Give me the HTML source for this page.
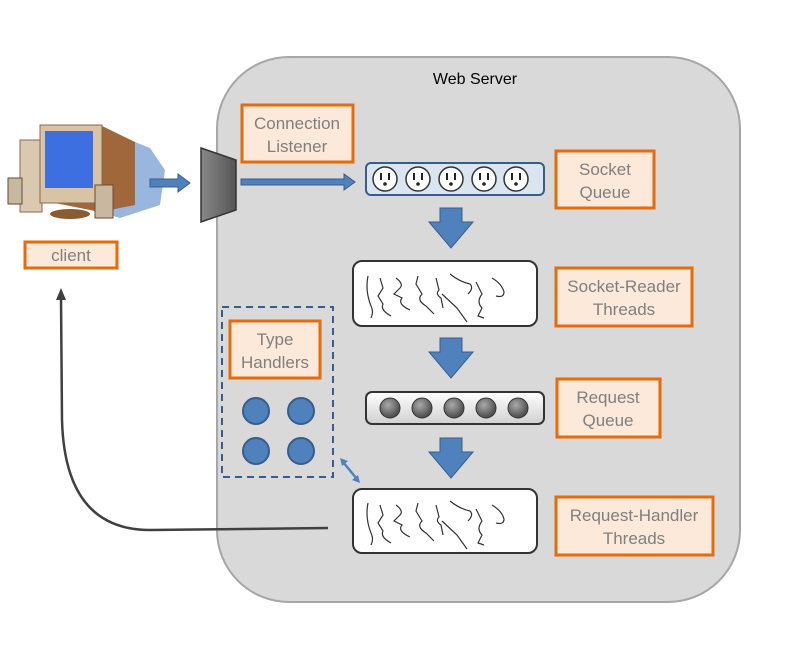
<!DOCTYPE html>
<html><head><meta charset="utf-8"><style>
html,body{margin:0;padding:0;background:#fff;width:800px;height:670px;overflow:hidden}
svg{display:block}
.lbl{fill:#fde9d9;stroke:#e46c0a;stroke-width:3}
text{font-family:"Liberation Sans",sans-serif;}
.t{fill:#7f7f7f;font-size:17px;text-anchor:middle}
</style></head><body>
<svg width="800" height="670" viewBox="0 0 800 670">
<defs>
<linearGradient id="rq" x1="0" y1="0" x2="0" y2="1"><stop offset="0" stop-color="#fff"/><stop offset="1" stop-color="#d0d0d0"/></linearGradient>
<radialGradient id="ball" cx="0.4" cy="0.35" r="0.7"><stop offset="0" stop-color="#aaa"/><stop offset="1" stop-color="#444"/></radialGradient>
<linearGradient id="tr" x1="0" y1="0" x2="1" y2="0"><stop offset="0" stop-color="#888"/><stop offset="1" stop-color="#555"/></linearGradient>
<g id="threads" fill="none" stroke="#333" stroke-width="1.2">
<path d="M10 16 q-3 15 3 30 q3 6 0 12"/>
<path d="M22 18 l3 10 l-5 8 l5 8 q-3 6 8 12"/>
<path d="M38 18 q8 6 4 10 l-6 6 l8 4 q-5 6 8 12"/>
<path d="M60 16 l-2 8 l6 10 q-6 6 4 12 l8 8"/>
<path d="M78 18 l3 12 q-4 4 2 8 l2 10"/>
<path d="M92 14 q10 8 20 10 q4 4 -2 10 M84 34 l15 14 l10 14"/>
<path d="M118 22 l6 12 q-6 8 0 14 l-4 8 l6 2"/>
<path d="M134 18 q10 6 12 14 q0 6 -8 4"/>
</g>
<g id="outlet"><circle r="12" fill="#fff" stroke="#333" stroke-width="1.5"/><rect x="-5" y="-6" width="2" height="7" fill="#222"/><rect x="3" y="-6" width="2" height="7" fill="#222"/><circle cx="0" cy="5" r="1.8" fill="#222"/></g>
<polygon id="down" points="-11,0 11,0 11,14 22,14 0,40 -22,14 -11,14" fill="#4f81bd" stroke="#385d8a" stroke-width="1"/>
</defs>

<rect x="217" y="57" width="523" height="545" rx="72" fill="#d9d9d9" stroke="#a6a6a6" stroke-width="2"/>
<text x="475" y="84" font-size="16" fill="#000" text-anchor="middle">Web Server</text>

<!-- computer -->
<polygon points="95,135 130,140 150,148 165,170 160,205 120,218 100,212" fill="#7fa5d6" opacity="0.8"/>
<rect x="20" y="140" width="22" height="72" fill="#d9c9b0" stroke="#8a6a4a"/>
<polygon points="40,125 100,125 135,142 135,205 100,212 40,200" fill="#a0683a"/>
<rect x="40" y="125" width="62" height="78" fill="#d8c3a5" stroke="#8a6a4a"/>
<rect x="45" y="131" width="48" height="57" fill="#3d6fe0"/>
<ellipse cx="70" cy="214" rx="20" ry="5" fill="#8a5a30"/>
<rect x="8" y="178" width="14" height="26" fill="#c9b8a0" stroke="#6a4a30"/>
<rect x="95" y="185" width="18" height="33" fill="#c9b8a0" stroke="#6a4a30"/>

<rect class="lbl" x="25" y="242" width="92" height="26"/>
<text class="t" x="71" y="261">client</text>

<!-- small arrow -->
<polygon points="150,179 178,179 178,174 190,183 178,192 178,187 150,187" fill="#4f81bd" stroke="#385d8a"/>
<!-- trapezoid -->
<polygon points="201,148 236,160 236,210 201,222" fill="url(#tr)" stroke="#333" stroke-width="1.5"/>
<!-- long arrow -->
<polygon points="241,179 344,179 344,174 355,182 344,190 344,185 241,185" fill="#4f81bd" stroke="#385d8a"/>

<rect class="lbl" x="242" y="105" width="111" height="57"/>
<text class="t" x="297" y="129">Connection</text>
<text class="t" x="297" y="152">Listener</text>

<!-- socket queue -->
<rect x="366" y="163" width="178" height="32" rx="5" fill="#dbe5f1" stroke="#385d8a" stroke-width="2"/>
<use href="#outlet" x="385" y="179"/><use href="#outlet" x="418" y="179"/><use href="#outlet" x="451" y="179"/><use href="#outlet" x="484" y="179"/><use href="#outlet" x="516" y="179"/>
<rect class="lbl" x="556" y="151" width="98" height="57"/>
<text class="t" x="605" y="175">Socket</text>
<text class="t" x="605" y="198">Queue</text>

<use href="#down" x="451" y="208"/>

<rect x="353" y="261" width="184" height="65" rx="9" fill="#fff" stroke="#333" stroke-width="2"/>
<use href="#threads" x="358" y="260"/>
<rect class="lbl" x="556" y="268" width="136" height="58"/>
<text class="t" x="624" y="292">Socket-Reader</text>
<text class="t" x="624" y="315">Threads</text>

<use href="#down" x="451" y="338"/>

<rect x="366" y="392" width="178" height="32" rx="6" fill="url(#rq)" stroke="#333" stroke-width="2"/>
<circle cx="390" cy="408" r="10" fill="url(#ball)" stroke="#333"/>
<circle cx="422" cy="408" r="10" fill="url(#ball)" stroke="#333"/>
<circle cx="454" cy="408" r="10" fill="url(#ball)" stroke="#333"/>
<circle cx="486" cy="408" r="10" fill="url(#ball)" stroke="#333"/>
<circle cx="518" cy="408" r="10" fill="url(#ball)" stroke="#333"/>
<rect class="lbl" x="557" y="379" width="103" height="58"/>
<text class="t" x="608" y="403">Request</text>
<text class="t" x="608" y="426">Queue</text>

<use href="#down" x="451" y="438"/>

<rect x="353" y="489" width="184" height="64" rx="9" fill="#fff" stroke="#333" stroke-width="2"/>
<use href="#threads" x="358" y="487"/>
<rect class="lbl" x="556" y="497" width="157" height="58"/>
<text class="t" x="634" y="521">Request-Handler</text>
<text class="t" x="634" y="544">Threads</text>

<!-- type handlers -->
<rect x="222" y="307" width="111" height="170" fill="none" stroke="#385d8a" stroke-width="2" stroke-dasharray="7,5"/>
<rect class="lbl" x="230" y="321" width="90" height="57"/>
<text class="t" x="275" y="345">Type</text>
<text class="t" x="275" y="368">Handlers</text>
<circle cx="256" cy="411" r="13" fill="#4f81bd" stroke="#385d8a" stroke-width="2"/>
<circle cx="301" cy="411" r="13" fill="#4f81bd" stroke="#385d8a" stroke-width="2"/>
<circle cx="256" cy="451" r="13" fill="#4f81bd" stroke="#385d8a" stroke-width="2"/>
<circle cx="301" cy="451" r="13" fill="#4f81bd" stroke="#385d8a" stroke-width="2"/>
<line x1="343" y1="462" x2="357" y2="479" stroke="#4f81bd" stroke-width="2.5"/>
<polygon points="340,458 348,461 342,466" fill="#4f81bd"/>
<polygon points="360,483 352,480 358,475" fill="#4f81bd"/>

<!-- return line -->
<path d="M328 528 L150 530 Q65 530 62 420 L61 298" fill="none" stroke="#404040" stroke-width="2.5"/>
<polygon points="61,288 56,300 66,300" fill="#404040"/>
</svg>
</body></html>
